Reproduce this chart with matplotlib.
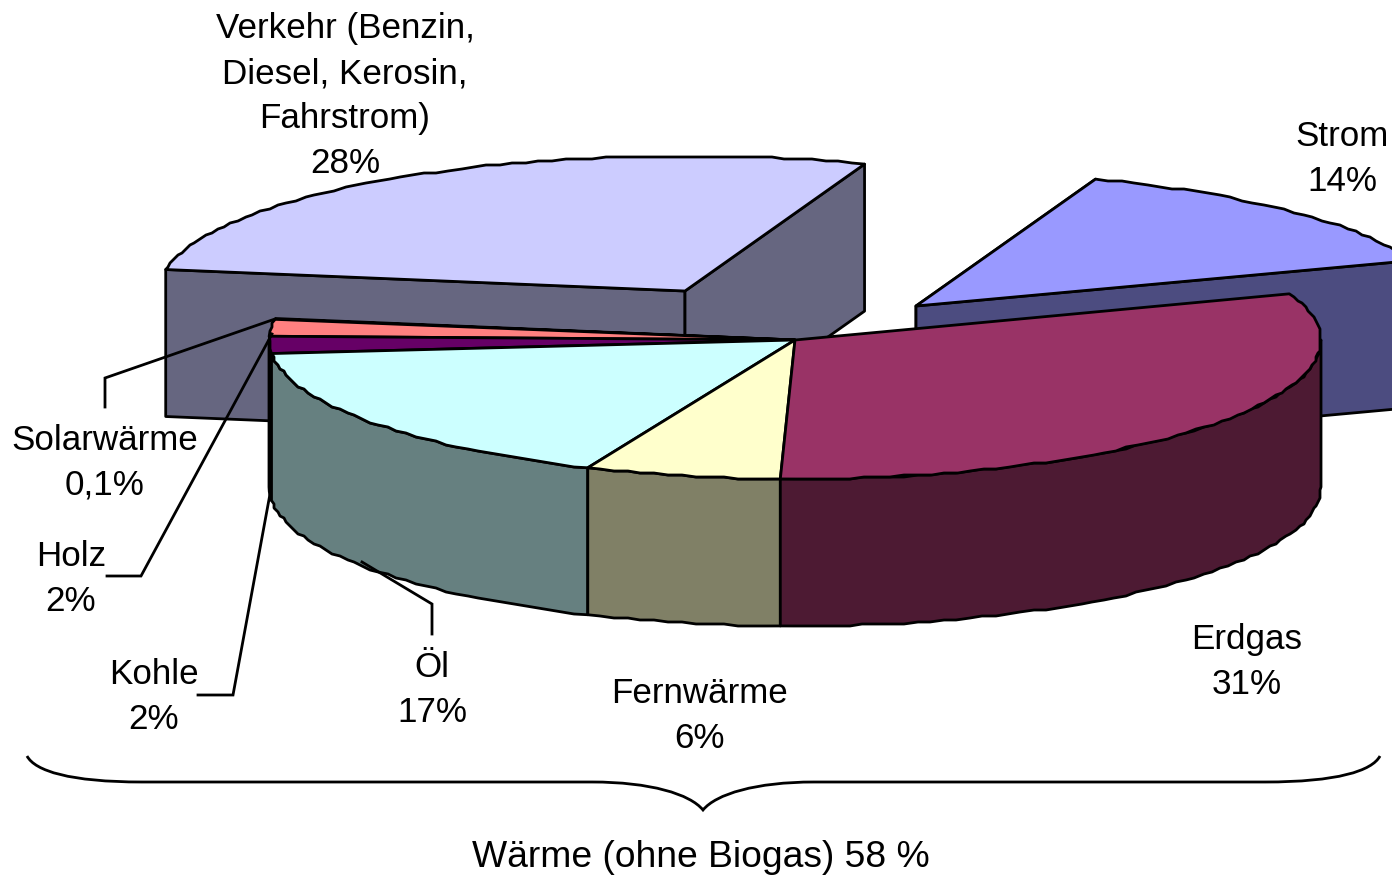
import numpy as np
import matplotlib
matplotlib.use("Agg")
import matplotlib.pyplot as plt
from matplotlib.patches import Polygon, PathPatch
from matplotlib.path import Path

plt.rcParams['font.family'] = ['Liberation Sans', 'DejaVu Sans']

# data, clockwise from the Erdgas slice
categories = ["Erdgas", "Fernwärme", "Öl", "Kohle", "Holz", "Solarwärme", "Verkehr", "Strom"]
values = [31, 6, 17, 2, 2, 0.1, 28, 14]
labels = ["Erdgas\n31%", "Fernwärme\n6%", "Öl\n17%", "Kohle\n2%", "Holz\n2%",
          "Solarwärme\n0,1%", "Verkehr (Benzin,\nDiesel, Kerosin,\nFahrstrom)\n28%", "Strom\n14%"]
group_label = "Wärme (ohne Biogas) 58 %"

# styling and layout
top_colors = ["#993366", "#FFFFCC", "#CCFFFF", "#660066", "#FF8080", "#FF8080", "#CCCCFF", "#9999FF"]
side_colors = ["#4D1A33", "#808066", "#668080", "#330033", "#804040", "#804040", "#666680", "#4C4C80"]
centers = {"Verkehr": (685, 292), "Strom": (916, 307)}
main_center = (795, 341)
A, B_FRONT, B_BACK, DEPTH = 526, 139, 135, 147
START = 20.0
LW = 2.0
label_pos = {"Erdgas": (1247, 662), "Fernwärme": (699, 716), "Öl": (432, 690), "Kohle": (154, 697),
             "Holz": (71, 579), "Solarwärme": (105, 463), "Verkehr": (345, 96), "Strom": (1342, 159)}
leaders = {"Solarwärme": [(105, 408), (105, 379), (275, 320)],
           "Holz": [(107, 577), (141, 577), (272, 335)],
           "Kohle": [(198, 696), (233, 696), (270, 495)],
           "Öl": [(432, 635), (432, 605), (362, 563)]}

fig = plt.figure(figsize=(13.92, 8.79), dpi=100)
ax = fig.add_axes([0, 0, 1, 1])
ax.set_xlim(0, 1392)
ax.set_ylim(879, 0)
ax.axis("off")


def rim(c, t0, t1):
    """Ellipse rim between two angles, slightly faceted like the original."""
    n = max(2, int(abs(t1 - t0) / 1.5) + 1)
    t = np.radians(np.linspace(t0, t1, n))
    s = np.sin(t)
    x = c[0] + A * np.cos(t)
    y = c[1] - np.where(s > 0, B_BACK, B_FRONT) * s
    if n > 4:
        x[1:-1] = np.round(x[1:-1] / 2) * 2
        y[1:-1] = np.round(y[1:-1] / 2) * 2
    return np.column_stack([x, y])


def poly(pts, color, z):
    ax.add_patch(Polygon(pts, closed=True, facecolor=color, edgecolor="black",
                         linewidth=LW, joinstyle="round", zorder=z))


# slice angles from the values
angles = START - np.cumsum([0] + values) * 360 / 100.0
idx = {c: i for i, c in enumerate(categories)}


def down(p):
    return np.asarray(p) + [0, DEPTH]


def exploded(name, z):
    i = idx[name]
    c = centers[name]
    t0, t1 = angles[i], angles[i + 1]
    r = rim(c, t0, t1)
    for end in (r[0], r[-1]):
        poly([c, end, down(end), down(c)], side_colors[i], z)
    poly(np.vstack([[c], r]), top_colors[i], z + 0.5)


exploded("Strom", 1)
exploded("Verkehr", 2)

# main group: outer walls, front-most drawn after hidden parts, then tops
for name in ["Solarwärme", "Holz", "Kohle", "Öl", "Fernwärme", "Erdgas"]:
    i = idx[name]
    t0, t1 = angles[i], angles[i + 1]
    lo, hi = max(t1, -180.0), min(t0, 0.0)
    if lo < hi:
        r = rim(main_center, hi, lo)
        poly(np.vstack([r, down(r)[::-1]]), side_colors[i], 4)
for name in ["Solarwärme", "Holz", "Kohle", "Öl", "Fernwärme", "Erdgas"]:
    i = idx[name]
    r = rim(main_center, angles[i], angles[i + 1])
    poly(np.vstack([[main_center], r]), top_colors[i], 5)

# labels and leader lines
for name, lab in zip(categories, labels):
    x, y = label_pos[name]
    ax.text(x, y, lab, ha="center", va="center", fontsize=25.2, linespacing=1.45,
            color="black", zorder=8)
for name, pts in leaders.items():
    xs, ys = zip(*pts)
    ax.plot(xs, ys, color="black", lw=LW, zorder=7, solid_joinstyle="miter")

# brace
verts = [(27, 757), (35, 772), (70, 783), (142, 783), (592, 783), (650, 783), (690, 795), (703, 811),
         (716, 795), (756, 783), (814, 783), (1265, 783), (1337, 783), (1372, 772), (1380, 757)]
codes = [Path.MOVETO, Path.CURVE4, Path.CURVE4, Path.CURVE4, Path.LINETO, Path.CURVE4, Path.CURVE4, Path.CURVE4,
         Path.CURVE4, Path.CURVE4, Path.CURVE4, Path.LINETO, Path.CURVE4, Path.CURVE4, Path.CURVE4]
ax.add_patch(PathPatch(Path(verts, codes), facecolor="none", edgecolor="black", linewidth=LW, zorder=7))
ax.text(701, 858, group_label, ha="center", va="center", fontsize=26.8, color="black", zorder=8)

fig.savefig("out.png", dpi=100, facecolor="white")
